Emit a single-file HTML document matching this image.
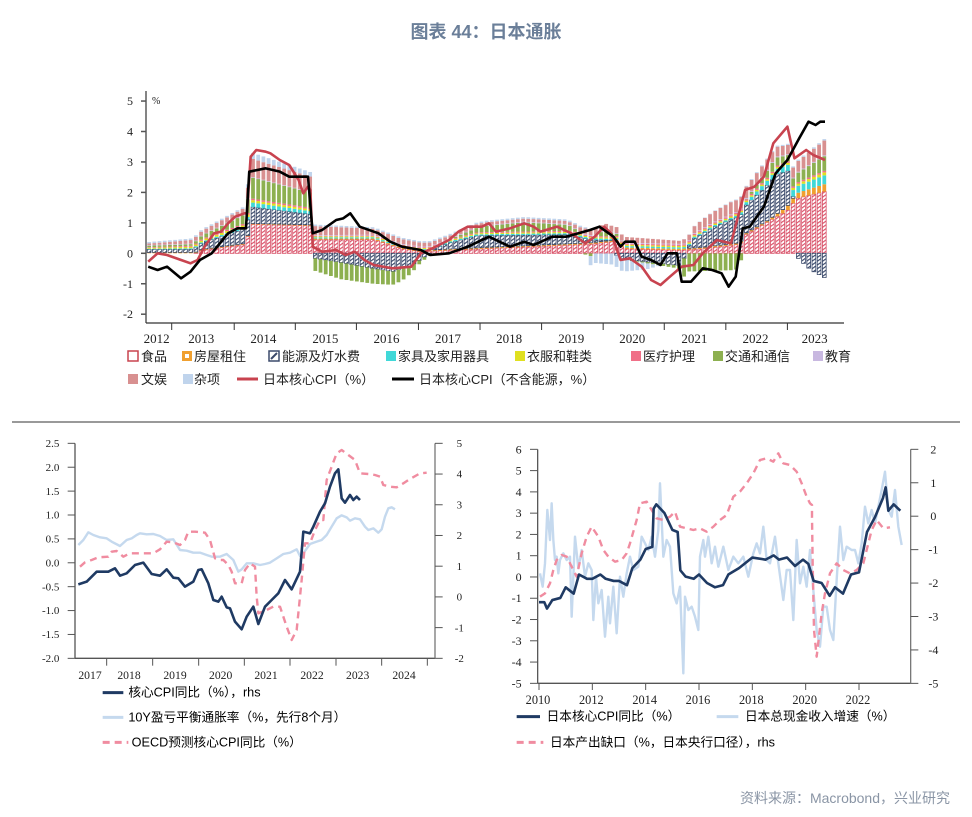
<!DOCTYPE html>
<html><head><meta charset="utf-8"><style>
html,body{margin:0;padding:0;background:#fff;}
svg{display:block;font-family:"Liberation Sans","Noto Sans CJK SC",sans-serif;}
.n{font-family:"Liberation Serif","Noto Serif CJK SC",serif;fill:#222;}
.lg{font-size:13px;fill:#222;font-family:"Liberation Sans","Noto Sans CJK SC",sans-serif;}
</style></head><body>
<svg id="s" width="972" height="817" viewBox="0 0 972 817" xmlns="http://www.w3.org/2000/svg">
<defs>
<pattern id="hf" patternUnits="userSpaceOnUse" width="8" height="8" patternTransform="rotate(45)"><rect width="8" height="8" fill="#fff"/><rect width="3" height="8" fill="#d9536a"/></pattern>
<pattern id="he" patternUnits="userSpaceOnUse" width="8" height="8" patternTransform="rotate(45)"><rect width="8" height="8" fill="#fff"/><rect width="3" height="8" fill="#3b4a6b"/></pattern>
</defs>
<text x="486" y="38" text-anchor="middle" font-size="18" font-weight="bold" fill="#6b7f99">图表 44：日本通胀</text>
<g id="top" transform="translate(120,80) scale(0.47,0.33333)"></g>
<g id="ll" transform="translate(20,430) scale(0.33333)"></g>
<g id="lr" transform="translate(490,430) scale(0.33333)"></g>
<g id="ov"></g>
<line x1="12" y1="422" x2="960" y2="422" stroke="#333" stroke-width="1"/>
<text x="950" y="803" text-anchor="end" font-size="14" fill="#8a95a5">资料来源：Macrobond，兴业研究</text>
</svg>
<script>
var NS="http://www.w3.org/2000/svg";
function el(p,tag,a,txt){var e=document.createElementNS(NS,tag);for(var k in a)e.setAttribute(k,a[k]);if(txt!==undefined)e.textContent=txt;p.appendChild(e);return e;}
function P(pts){return 'M'+pts.map(function(p){return p[0].toFixed(1)+','+p[1].toFixed(1)}).join('L');}
function line(g,pts,col,w,dash){var a={d:P(pts),fill:'none',stroke:col,'stroke-width':w,'vector-effect':'non-scaling-stroke','stroke-linejoin':'round'};if(dash)a['stroke-dasharray']=dash;el(g,'path',a);}
function interp(kf,x){if(x<=kf[0][0])return kf[0][1];for(var i=1;i<kf.length;i++){if(x<=kf[i][0]){var a=kf[i-1],b=kf[i];return a[1]+(b[1]-a[1])*(x-a[0])/(b[0]-a[0]);}}return kf[kf.length-1][1];}
var ov=document.getElementById('ov');
var T=document.getElementById('top');
var Z=520,U=91.4;
var comps=[
 {f:'url(#hf)',s:'#d9536a',k:[[60,0],[160,0],[175,0.1],[270,0.3],[275,0.95],[405,0.9],[410,0.45],[540,0.45],[600,0.15],[640,0.05],[700,0.1],[1000,0.3],[1060,0.4],[1070,0.15],[1190,0.1],[1240,0.15],[1320,0.3],[1330,0.6],[1420,1.4],[1440,1.8],[1505,2.05]]},
 {f:'#f0a030',k:[[60,0.03],[1380,0.05],[1420,0.15],[1505,0.25]]},
 {f:'url(#he)',s:'#3b4a6b',k:[[60,0.1],[150,0.1],[170,0.2],[270,0.5],[275,0.55],[405,0.35],[410,-0.15],[470,-0.3],[540,-0.5],[580,-0.6],[620,-0.4],[660,0],[700,0.2],[760,0.4],[860,0.35],[960,0.3],[1000,0.1],[1050,0],[1070,-0.2],[1130,-0.3],[1190,-0.4],[1220,0.3],[1260,0.6],[1300,0.8],[1330,0.9],[1400,1.3],[1425,1.1],[1430,0.1],[1445,-0.2],[1470,-0.55],[1505,-0.85]]},
 {f:'#40d8d8',k:[[60,0.02],[270,0.05],[275,0.15],[405,0.1],[410,0.04],[1300,0.05],[1380,0.15],[1505,0.3]]},
 {f:'#e0e020',k:[[60,0.03],[275,0.08],[405,0.06],[410,0.03],[1380,0.05],[1505,0.1]]},
 {f:'#f07088',k:[[60,0.02],[275,0.05],[405,0.05],[410,0.02],[1505,0.05]]},
 {f:'#8db050',k:[[60,0.05],[150,0.05],[170,0.1],[270,0.3],[275,0.7],[405,0.5],[410,-0.4],[470,-0.55],[540,-0.5],[600,-0.4],[640,-0.1],[700,0],[780,0.2],[860,0.3],[950,0.2],[1000,-0.1],[1030,0.2],[1060,0.05],[1070,0],[1190,-0.1],[1200,-0.6],[1310,-0.55],[1330,0],[1390,0.3],[1420,0.2],[1440,0.3],[1505,0.5]]},
 {f:'#c8b8e0',k:[[60,0.02],[1505,0.03]]},
 {f:'#d89090',k:[[60,0.05],[270,0.2],[275,0.6],[405,0.5],[410,0.3],[600,0.15],[700,0.1],[960,0.1],[1000,0.2],[1060,0.2],[1190,0.1],[1240,0.3],[1300,0.4],[1420,0.3],[1505,0.5]]},
 {f:'#c0d4ec',k:[[60,0.05],[270,0.05],[275,0.2],[405,0.15],[410,0.05],[990,0.05],[1000,-0.3],[1070,-0.4],[1120,-0.2],[1150,0],[1505,0.05]]}
];
for(var zx=62;zx<=1506;zx+=11.05){
  var pos=0,neg=0;
  comps.forEach(function(c){
    var v=interp(c.k,zx);if(Math.abs(v)<0.001)return;
    var y0,h;
    if(v>0){y0=Z-(pos+v)*U;h=v*U;pos+=v;}else{y0=Z-neg*U;h=-v*U;neg+=v;}
    var a={x:zx-4,y:y0,width:8,height:h,fill:c.f};
    if(c.s){a.stroke=c.s;a['stroke-width']=0.8;a['vector-effect']='non-scaling-stroke';}
    el(T,'rect',a);
  });
}
var red=[[60,545],[80,520],[100,525],[130,540],[150,550],[165,540],[180,500],[200,460],[215,455],[230,430],[245,410],[265,400],[270,400],[278,230],[290,210],[310,215],[320,220],[340,240],[360,255],[380,300],[390,340],[400,320],[405,330],[410,500],[430,515],[460,510],[480,525],[500,515],[520,540],[540,555],[580,565],[620,560],[640,520],[665,505],[700,480],[720,455],[740,440],[770,440],[785,430],[800,455],[830,445],[860,430],[880,440],[895,455],[930,440],[960,460],[990,490],[1010,470],[1030,440],[1045,460],[1065,540],[1085,535],[1110,560],[1130,600],[1150,615],[1170,590],[1195,560],[1220,555],[1240,520],[1270,480],[1300,490],[1330,330],[1350,320],[1370,290],[1390,190],[1420,140],[1435,235],[1460,210],[1475,225],[1500,240]];
var blk=[[60,560],[80,570],[100,560],[130,595],[150,575],[170,540],[195,520],[230,460],[250,445],[268,445],[275,275],[310,265],[340,275],[360,290],[400,290],[410,460],[430,450],[460,420],[475,415],[490,400],[510,440],[550,460],[575,485],[600,500],[640,510],[660,525],[700,520],[740,500],[785,470],[830,500],[860,485],[880,495],[920,470],[950,470],[1000,450],[1020,440],[1050,470],[1065,500],[1075,485],[1095,485],[1110,530],[1130,540],[1150,555],[1165,520],[1185,520],[1195,605],[1215,605],[1240,565],[1260,570],[1280,580],[1295,620],[1310,590],[1325,445],[1340,440],[1370,380],[1395,280],[1420,240],[1445,175],[1465,125],[1480,135],[1490,125],[1500,125]];
line(T,red,'#c8434f',2.6);
line(T,blk,'#000',2.6);
el(ov,'line',{x1:146,y1:91,x2:146,y2:323,stroke:'#333','stroke-width':1.2});
el(ov,'line',{x1:146,y1:323,x2:844,y2:323,stroke:'#333','stroke-width':1.2});
[5,4,3,2,1,0,-1,-2].forEach(function(v){var y=253.3-v*30.45;el(ov,'line',{x1:141,y1:y,x2:146,y2:y,stroke:'#555','stroke-width':1.5});el(ov,'text',{x:133,y:y+4,'text-anchor':'end','font-size':12,class:'n'},v);});
el(ov,'text',{x:152,y:104,'font-size':10,class:'n'},'%');
[110,243,373,503,635,766,897,1028,1158,1289,1420].forEach(function(z){var x=120+z*0.47;el(ov,'line',{x1:x,y1:323,x2:x,y2:330,stroke:'#333','stroke-width':1});});
var yl=[[78,2012],[173,2013],[305,2014],[437,2015],[567,2016],[698,2017],[828,2018],[960,2019],[1090,2020],[1222,2021],[1352,2022],[1478,2023]];
yl.forEach(function(p){el(ov,'text',{x:120+p[0]*0.47,y:343,'text-anchor':'middle','font-size':13,class:'n'},p[1]);});
function sq(x,y,f,s){var a={x:x,y:y,width:10,height:10,fill:f};if(s){a.stroke=s;a['stroke-width']=1.5;}el(ov,'rect',a);}
var r1=351,r2=374;
sq(128,r1,'#fff','#c8434f');el(ov,'text',{x:141,y:r1+10,class:'lg'},'食品');
sq(182,r1,'#f0a030');el(ov,'rect',{x:185,y:r1+3,width:4,height:4,fill:'#fff'});el(ov,'text',{x:194,y:r1+10,class:'lg'},'房屋租住');
sq(269,r1,'#fff','#3b4a6b');el(ov,'line',{x1:271,y1:r1+8,x2:277,y2:r1+2,stroke:'#3b4a6b','stroke-width':2});el(ov,'text',{x:282,y:r1+10,class:'lg'},'能源及灯水费');
sq(386,r1,'#40d8d8');el(ov,'text',{x:398,y:r1+10,class:'lg'},'家具及家用器具');
sq(515,r1,'#e0e020');el(ov,'text',{x:527,y:r1+10,class:'lg'},'衣服和鞋类');
sq(631,r1,'#f07088');el(ov,'text',{x:643,y:r1+10,class:'lg'},'医疗护理');
sq(713,r1,'#8db050');el(ov,'text',{x:725,y:r1+10,class:'lg'},'交通和通信');
sq(813,r1,'#c8b8e0');el(ov,'text',{x:825,y:r1+10,class:'lg'},'教育');
sq(128,r2,'#d89090');el(ov,'text',{x:141,y:r2+10,class:'lg'},'文娱');
sq(183,r2,'#c0d4ec');el(ov,'text',{x:194,y:r2+10,class:'lg'},'杂项');
el(ov,'line',{x1:237,y1:r2+5,x2:258,y2:r2+5,stroke:'#c8434f','stroke-width':3});el(ov,'text',{x:263,y:r2+10,class:'lg'},'日本核心CPI（%）');
el(ov,'line',{x1:392,y1:r2+5,x2:414,y2:r2+5,stroke:'#000','stroke-width':3});el(ov,'text',{x:419,y:r2+10,class:'lg'},'日本核心CPI（不含能源，%）');

var L=document.getElementById('ll');
el(L,'line',{x1:165,y1:40,x2:165,y2:685,stroke:'#555','stroke-width':1.3,'vector-effect':'non-scaling-stroke'});
el(L,'line',{x1:165,y1:685,x2:1245,y2:685,stroke:'#555','stroke-width':1.3,'vector-effect':'non-scaling-stroke'});
el(L,'line',{x1:1245,y1:40,x2:1245,y2:685,stroke:'#777','stroke-width':1.3,'vector-effect':'non-scaling-stroke'});
['2.5','2.0','1.5','1.0','0.5','0.0','-0.5','-1.0','-1.5','-2.0'].forEach(function(t,i){var y=40+i*71.67;el(L,'line',{x1:143,y1:y,x2:165,y2:y,stroke:'#555','stroke-width':1,'vector-effect':'non-scaling-stroke'});el(L,'text',{x:118,y:y+11,'text-anchor':'end','font-size':33,class:'n'},t);});
[5,4,3,2,1,0,-1,-2].forEach(function(t,i){var y=40+i*92.14;el(L,'line',{x1:1245,y1:y,x2:1268,y2:y,stroke:'#555','stroke-width':1,'vector-effect':'non-scaling-stroke'});el(L,'text',{x:1318,y:y+11,'text-anchor':'middle','font-size':33,class:'n'},t);});
[260,398,536,673,810,948,1085,1222].forEach(function(x){el(L,'line',{x1:x,y1:685,x2:x,y2:707,stroke:'#555','stroke-width':1,'vector-effect':'non-scaling-stroke'});});
[[210,2017],[327,2018],[465,2019],[602,2020],[738,2021],[876,2022],[1013,2023],[1152,2024]].forEach(function(p){el(L,'text',{x:p[0],y:747,'text-anchor':'middle','font-size':35,class:'n'},p[1]);});
var lb=[[175,345],[190,330],[205,307],[220,315],[240,322],[260,325],[275,335],[300,348],[320,330],[335,325],[350,315],[360,310],[380,313],[400,312],[420,318],[440,330],[460,328],[480,360],[500,362],[520,368],[540,368],[560,375],[575,380],[600,380],[620,372],[640,390],[655,425],[665,418],[680,400],[700,400],[720,405],[735,402],[750,398],[770,385],[790,372],[810,368],[830,358],[840,378],[850,370],[870,342],[890,335],[905,330],[920,315],[935,290],[950,265],[965,256],[980,262],[990,272],[1005,265],[1020,268],[1035,290],[1045,300],[1060,295],[1075,308],[1085,298],[1095,260],[1105,235],[1115,232],[1125,238]];
var pk=[[180,410],[195,397],[215,390],[235,382],[265,380],[275,365],[290,363],[310,380],[330,370],[350,370],[370,370],[400,370],[420,358],[440,335],[460,337],[480,345],[495,330],[505,305],[525,305],[555,308],[570,330],[585,385],[600,390],[610,390],[625,405],[635,425],[645,460],[665,460],[675,420],[690,400],[705,410],[710,500],[715,550],[740,540],[760,530],[780,530],[800,590],[815,630],[830,600],[845,450],[855,340],[870,340],[885,300],[900,270],[910,270],[920,150],[935,110],[950,70],[965,60],[985,75],[1005,90],[1020,130],[1045,132],[1065,135],[1080,140],[1090,165],[1110,170],[1130,172],[1150,160],[1165,150],[1200,130],[1220,128]];
var nv=[[175,463],[200,455],[230,425],[265,425],[285,415],[300,437],[320,430],[345,405],[370,398],[395,432],[420,437],[440,418],[460,443],[475,445],[495,470],[520,455],[535,420],[545,418],[565,460],[580,510],[595,515],[605,500],[620,532],[630,535],[645,575],[665,598],[680,560],[700,530],[715,582],[735,530],[755,510],[775,490],[795,450],[815,478],[840,425],[850,305],[870,310],[880,290],[900,245],[915,220],[930,170],[945,130],[955,118],[965,205],[975,218],[990,195],[1000,210],[1010,200],[1020,210]];
line(L,lb,'#c5d9ee',2.4);
line(L,pk,'#f08ca0',2.4,'7,5');
line(L,nv,'#1f3a63',2.6);
el(L,'line',{x1:248,y1:788,x2:310,y2:788,stroke:'#1f3a63','stroke-width':3,'vector-effect':'non-scaling-stroke'});
el(L,'text',{x:325,y:800,'font-size':38},'核心CPI同比（%），rhs');
el(L,'line',{x1:248,y1:862,x2:310,y2:862,stroke:'#c5d9ee','stroke-width':3,'vector-effect':'non-scaling-stroke'});
el(L,'text',{x:325,y:874,'font-size':38},'10Y盈亏平衡通胀率（%，先行8个月）');
el(L,'line',{x1:248,y1:937,x2:325,y2:937,stroke:'#f08ca0','stroke-width':3,'stroke-dasharray':'7,5','vector-effect':'non-scaling-stroke'});
el(L,'text',{x:335,y:949,'font-size':38},'OECD预测核心CPI同比（%）');

var R=document.getElementById('lr');
el(R,'line',{x1:143,y1:58,x2:143,y2:760,stroke:'#555','stroke-width':1.3,'vector-effect':'non-scaling-stroke'});
el(R,'line',{x1:143,y1:760,x2:1262,y2:760,stroke:'#555','stroke-width':1.3,'vector-effect':'non-scaling-stroke'});
el(R,'line',{x1:1262,y1:58,x2:1262,y2:760,stroke:'#777','stroke-width':1.3,'vector-effect':'non-scaling-stroke'});
for(var i=0;i<12;i++){var y=58+i*63.82;el(R,'line',{x1:120,y1:y,x2:143,y2:y,stroke:'#555','stroke-width':1,'vector-effect':'non-scaling-stroke'});el(R,'text',{x:95,y:y+12,'text-anchor':'end','font-size':36,class:'n'},6-i);}
for(var i=0;i<8;i++){var y=58+i*100.3;el(R,'line',{x1:1262,y1:y,x2:1285,y2:y,stroke:'#555','stroke-width':1,'vector-effect':'non-scaling-stroke'});el(R,'text',{x:1330,y:y+12,'text-anchor':'middle','font-size':36,class:'n'},2-i);}
[147,307,467,627,787,947,1107].forEach(function(x,i){el(R,'line',{x1:x,y1:760,x2:x,y2:780,stroke:'#555','stroke-width':1,'vector-effect':'non-scaling-stroke'});el(R,'text',{x:x-3,y:822,'text-anchor':'middle','font-size':37,class:'n'},2010+2*i);});
function xr(t){return 147+(t-2010)*80;}function yl2(v){return 440-v*63.8;}
var cpi=[[2010.0,-1.2],[2010.2,-1.2],[2010.3,-1.5],[2010.5,-1.1],[2010.8,-1.0],[2011.0,-0.5],[2011.2,-0.7],[2011.3,-0.8],[2011.5,0.1],[2011.8,-0.1],[2012.0,-0.1],[2012.3,0.1],[2012.5,-0.1],[2012.8,-0.2],[2013.0,-0.2],[2013.3,-0.4],[2013.5,0.4],[2013.8,0.8],[2014.0,1.3],[2014.25,1.4],[2014.3,3.2],[2014.4,3.4],[2014.7,3.0],[2015.0,2.2],[2015.2,2.1],[2015.3,0.3],[2015.5,0],[2015.8,-0.1],[2016.0,0.1],[2016.3,-0.3],[2016.6,-0.5],[2016.9,-0.4],[2017.1,0.1],[2017.5,0.4],[2018.0,0.9],[2018.5,0.8],[2018.8,1.0],[2019.0,0.8],[2019.3,0.9],[2019.6,0.5],[2019.9,0.8],[2020.1,0.6],[2020.3,-0.2],[2020.6,-0.3],[2020.9,-0.9],[2021.1,-0.5],[2021.4,-0.8],[2021.7,0.1],[2022.0,0.2],[2022.3,2.1],[2022.6,2.8],[2022.9,3.7],[2023.0,4.2],[2023.1,3.1],[2023.3,3.4],[2023.55,3.1]].map(function(p){return [xr(p[0]),yl2(p[1])];});
var wage=[[150,430],[158,470],[165,400],[172,240],[180,330],[185,220],[190,330],[195,390],[200,380],[205,430],[210,390],[220,370],[230,390],[240,380],[245,560],[255,320],[265,415],[275,360],[285,440],[295,400],[305,420],[310,570],[318,440],[325,520],[335,480],[345,620],[355,500],[360,580],[370,470],[380,610],[390,440],[400,500],[410,430],[420,380],[430,420],[445,410],[455,320],[465,340],[475,360],[485,320],[495,380],[505,300],[510,160],[520,380],[530,330],[540,350],[550,490],[560,520],[570,470],[580,730],[585,500],[595,540],[605,530],[615,560],[625,600],[630,380],[640,330],[645,380],[655,320],[665,400],[675,350],[685,410],[700,350],[715,420],[730,380],[745,400],[760,380],[775,440],[790,370],[800,340],[810,370],[820,290],[830,390],[840,400],[855,320],[865,400],[880,510],[890,420],[900,420],[910,570],[920,330],[930,460],[940,410],[950,470],[960,360],[970,480],[980,600],[990,650],[1000,530],[1010,530],[1020,600],[1030,630],[1040,450],[1050,290],[1060,390],[1070,350],[1085,360],[1095,360],[1105,400],[1115,340],[1125,230],[1135,280],[1145,240],[1155,280],[1165,230],[1175,180],[1185,125],[1195,240],[1205,260],[1215,180],[1225,290],[1235,345]];
var gap=[[150,500],[165,490],[180,460],[190,420],[200,390],[215,375],[230,380],[245,410],[260,440],[275,370],[290,320],[305,290],[325,320],[340,360],[355,380],[375,395],[395,390],[410,370],[420,340],[440,270],[450,220],[470,215],[485,240],[500,265],[520,270],[540,260],[555,245],[570,290],[590,295],[610,300],[630,295],[650,305],[670,290],[690,270],[710,255],[730,200],[750,185],[770,160],[790,130],[810,90],[830,85],[850,95],[865,70],[880,100],[900,105],[920,125],[935,160],[950,200],[960,220],[966,225],[966,260],[968,400],[972,600],[980,680],[995,550],[1005,490],[1020,430],[1040,400],[1060,420],[1080,430],[1100,420],[1120,400],[1130,360],[1145,300],[1160,270],[1180,295],[1200,292]];
line(R,wage,'#c5d9ee',2.4);
line(R,gap,'#f08ca0',2.4,'7,5');
line(R,cpi,'#1f3a63',2.6);
el(R,'line',{x1:80,y1:860,x2:150,y2:860,stroke:'#1f3a63','stroke-width':3,'vector-effect':'non-scaling-stroke'});
el(R,'text',{x:170,y:872,'font-size':38},'日本核心CPI同比（%）');
el(R,'line',{x1:680,y1:860,x2:745,y2:860,stroke:'#c5d9ee','stroke-width':3,'vector-effect':'non-scaling-stroke'});
el(R,'text',{x:765,y:872,'font-size':38},'日本总现金收入增速（%）');
el(R,'line',{x1:80,y1:937,x2:160,y2:937,stroke:'#f08ca0','stroke-width':3,'stroke-dasharray':'7,5','vector-effect':'non-scaling-stroke'});
el(R,'text',{x:180,y:949,'font-size':38},'日本产出缺口（%，日本央行口径），rhs');
</script>
</body></html>
